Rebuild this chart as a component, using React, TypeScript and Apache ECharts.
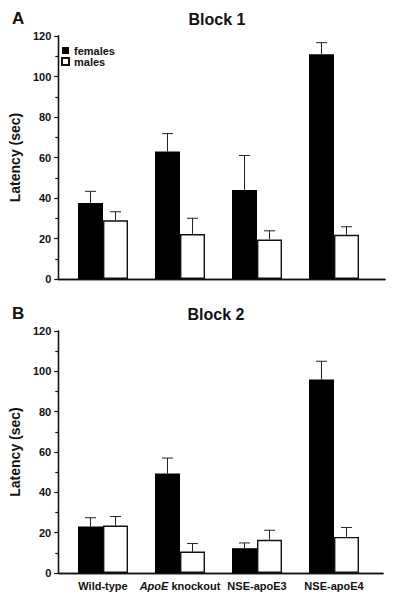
import React, { useEffect, useRef } from "react";
import * as echarts from "echarts";

const categories = ["Wild-type", "ApoE knockout", "NSE-apoE3", "NSE-apoE4"];
const yTicks = [0, 20, 40, 60, 80, 100, 120];

// Block 1
const females1 = [37.5, 63, 44, 111];
const females1Err = [5.8, 8.8, 17, 5.7];
const males1 = [29, 22.2, 19.5, 21.8];
const males1Err = [4.2, 7.8, 4.3, 4.0];

// Block 2
const females2 = [23, 49.3, 12.3, 95.9];
const females2Err = [4.4, 7.7, 2.6, 9.1];
const males2 = [23.5, 10.6, 16.5, 17.9];
const males2Err = [4.5, 4.0, 4.7, 4.7];

const FONT = "'Liberation Sans', Arial, Helvetica, sans-serif";
const INK = "#111";
const BAR_W = 25;

function errData(means: number[], errs: number[], side: number) {
  return means.map((m, i) => [i, m, m + errs[i], side]);
}

function errSeries(xi: number, data: any[]) {
  return {
    type: "custom",
    xAxisIndex: xi,
    yAxisIndex: xi,
    z: 5,
    silent: true,
    data,
    renderItem: (params: any, api: any) => {
      const idx = api.value(0);
      const p0 = api.coord([idx, api.value(1)]);
      const p1 = api.coord([idx, api.value(2)]);
      const x = p0[0] + api.value(3) * (BAR_W / 2);
      const style = { stroke: "#222", lineWidth: 1 };
      return {
        type: "group",
        children: [
          { type: "line", shape: { x1: x, y1: p0[1], x2: x, y2: p1[1] }, style },
          { type: "line", shape: { x1: x - 5.5, y1: p1[1], x2: x + 5.5, y2: p1[1] }, style },
        ],
      };
    },
  };
}

function frameAxes(gi: number) {
  const line = { show: true, lineStyle: { color: INK, width: 1.3 } };
  const x = [
    { type: "value", gridIndex: gi, min: 0, max: 1, position: "bottom", axisLine: line, axisTick: { show: false }, axisLabel: { show: false }, splitLine: { show: false } },
    { type: "value", gridIndex: gi, min: 0, max: 1, position: "top", axisLine: line, axisTick: { show: false }, axisLabel: { show: false }, splitLine: { show: false } },
  ];
  const y = [
    {
      type: "value", gridIndex: gi, min: 0, max: 120, interval: 20, position: "left",
      axisLine: line,
      axisTick: { show: true, inside: false, length: 4, lineStyle: { color: INK, width: 1.2 } },
      minorTick: { show: true, splitNumber: 2, length: 3, lineStyle: { color: INK, width: 1.2 } },
      splitLine: { show: false },
      axisLabel: { color: INK, fontFamily: FONT, fontWeight: "bold", fontSize: 11, margin: 7, formatter: (v: number) => (yTicks.includes(v) ? String(v) : "") },
      name: "Latency (sec)", nameLocation: "middle", nameRotate: 90, nameGap: 27,
      nameTextStyle: { color: INK, fontFamily: FONT, fontWeight: "bold", fontSize: 14 },
    },
    { type: "value", gridIndex: gi, min: 0, max: 120, position: "right", axisLine: line, axisTick: { show: false }, axisLabel: { show: false }, splitLine: { show: false } },
  ];
  return { x, y };
}

export default function App() {
  const ref = useRef<HTMLDivElement>(null);
  useEffect(() => {
    if (!ref.current) return;
    const chart = echarts.init(ref.current, null, { renderer: "svg" });
    const f1 = frameAxes(0);
    const f2 = frameAxes(2);
    const catAxis = (gi: number, showLabels: boolean) => ({
      type: "category", gridIndex: gi, data: categories,
      axisLine: { show: false }, axisTick: { show: false }, splitLine: { show: false },
      axisLabel: {
        show: showLabels, interval: 0, color: INK, fontFamily: FONT, fontWeight: "bold", fontSize: 11, margin: 7,
        formatter: (v: string) => (v.startsWith("ApoE ") ? "{i|ApoE}" + v.slice(4) : v),
        rich: { i: { fontStyle: "italic", fontWeight: "bold", fontFamily: FONT, fontSize: 11, color: INK } },
      },
    });
    const hiddenY = (gi: number) => ({ type: "value", gridIndex: gi, min: 0, max: 120, show: false });
    const barCommon = { type: "bar", barWidth: BAR_W, barGap: "0%" };
    const femStyle = { color: "#000" };
    const maleStyle = { color: "#fff", borderColor: INK, borderWidth: 1.4 };
    chart.setOption({
      animation: false,
      backgroundColor: "#fff",
      grid: [
        { left: 49, top: 36, width: 336, height: 243 },
        { left: 64.5, top: 36, width: 308, height: 243 },
        { left: 49, top: 331, width: 334, height: 242 },
        { left: 64.5, top: 331, width: 308, height: 242 },
      ],
      xAxis: [f1.x[0], f1.x[1], catAxis(1, false), f2.x[0], f2.x[1], catAxis(3, true)],
      yAxis: [f1.y[0], f1.y[1], hiddenY(1), f2.y[0], f2.y[1], hiddenY(3)],
      legend: {
        orient: "vertical", left: 56, top: 40, itemWidth: 7, itemHeight: 7, itemGap: 0,
        icon: "rect", selectedMode: false,
        data: ["females", "males"],
        textStyle: { color: INK, fontFamily: FONT, fontWeight: "bold", fontSize: 11, lineHeight: 11 },
      },
      graphic: [
        { type: "text", left: 12, top: 10, style: { text: "A", font: `bold 17px ${FONT}`, fill: INK } },
        { type: "text", x: 217, y: 19, style: { text: "Block 1", font: `bold 16px ${FONT}`, fill: INK, align: "center", verticalAlign: "middle" } },
        { type: "text", left: 12, top: 305, style: { text: "B", font: `bold 17px ${FONT}`, fill: INK } },
        { type: "text", x: 216, y: 314, style: { text: "Block 2", font: `bold 16px ${FONT}`, fill: INK, align: "center", verticalAlign: "middle" } },
      ],
      series: [
        { ...barCommon, name: "females", xAxisIndex: 2, yAxisIndex: 2, data: females1, itemStyle: femStyle },
        { ...barCommon, name: "males", xAxisIndex: 2, yAxisIndex: 2, data: males1, itemStyle: maleStyle },
        { ...barCommon, name: "females", xAxisIndex: 5, yAxisIndex: 5, data: females2, itemStyle: femStyle },
        { ...barCommon, name: "males", xAxisIndex: 5, yAxisIndex: 5, data: males2, itemStyle: maleStyle },
        errSeries(2, errData(females1, females1Err, -1)),
        errSeries(2, errData(males1, males1Err, 1)),
        errSeries(5, errData(females2, females2Err, -1)),
        errSeries(5, errData(males2, males2Err, 1)),
      ],
    });
    return () => chart.dispose();
  }, []);
  return <div ref={ref} style={{ position: "fixed", left: 0, top: 0, width: 400, height: 597, background: "#fff" }} />;
}
